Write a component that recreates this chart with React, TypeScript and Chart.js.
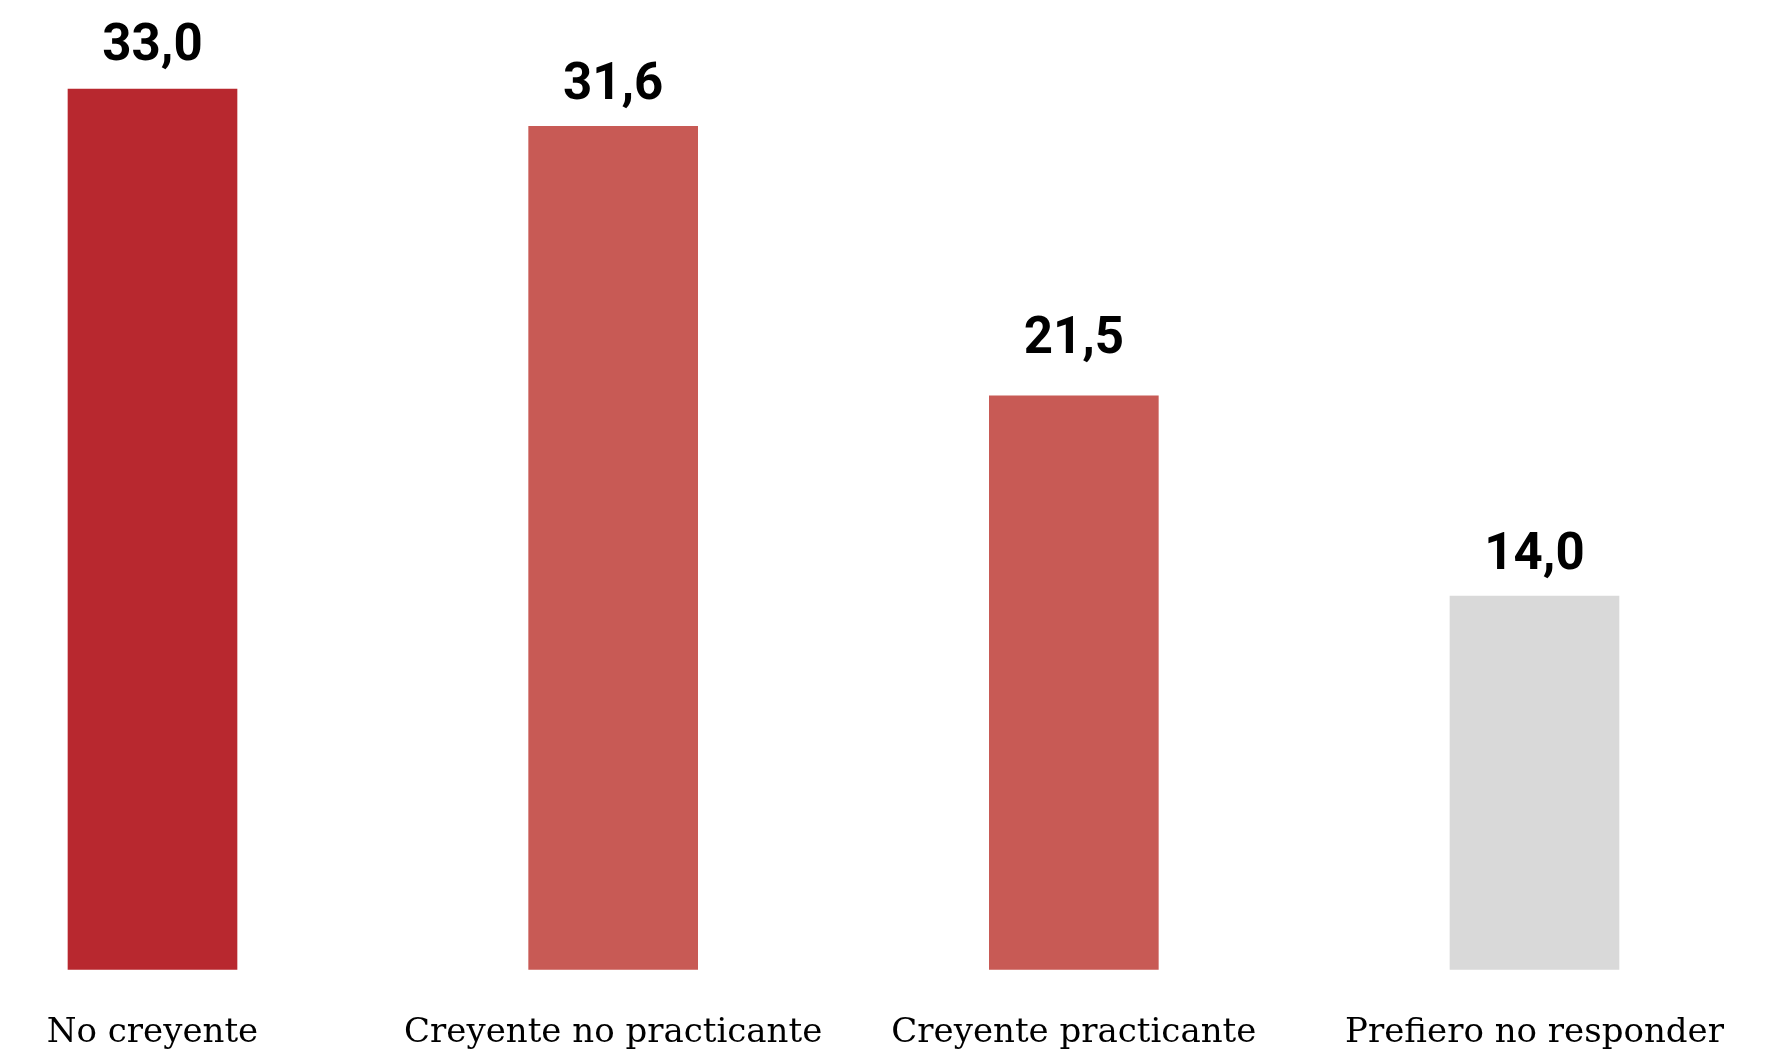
import React, { useEffect, useRef } from "react";
import { Chart, registerables } from "chart.js";

Chart.register(...registerables);

const categories = ["No creyente", "Creyente no practicante", "Creyente practicante", "Prefiero no responder"];
const values = [33.0, 31.6, 21.5, 14.0];
const valueLabels = ["33,0", "31,6", "21,5", "14,0"];
const barColors = ["#B8282F", "#C85A55", "#C85A55", "#D9D9D9"];
const labelGaps = [29, 27, 43, 27];

const W = 1782;
const H = 1051;
const AXIS_H = 81.5;

export default function App() {
  const ref = useRef<HTMLCanvasElement | null>(null);

  useEffect(() => {
    const canvas = ref.current;
    if (!canvas) return;

    const valuePlugin = {
      id: "valueLabels",
      afterDatasetsDraw(chart: any) {
        const ctx = chart.ctx;
        const meta = chart.getDatasetMeta(0);
        ctx.save();
        ctx.fillStyle = "#000000";
        ctx.font = "bold 51px Roboto";
        ctx.textAlign = "center";
        ctx.textBaseline = "alphabetic";
        meta.data.forEach((el: any, i: number) => {
          ctx.fillText(valueLabels[i], el.x, el.y - labelGaps[i]);
        });
        ctx.restore();
      },
    };

    const chart = new Chart(canvas, {
      type: "bar",
      data: {
        labels: categories,
        datasets: [
          {
            data: values,
            backgroundColor: barColors,
            borderWidth: 0,
            barThickness: 169,
            clip: false as any,
          },
        ],
      },
      options: {
        responsive: false,
        animation: false,
        devicePixelRatio: 1,
        layout: {
          padding: { left: 152.5, right: 247.5, top: 9, bottom: 0 },
        },
        plugins: {
          legend: { display: false },
          tooltip: { enabled: false },
        },
        scales: {
          x: {
            offset: false,
            grid: { display: false, drawTicks: false },
            border: { display: false },
            afterFit: (scale: any) => {
              scale.height = AXIS_H;
            },
            ticks: {
              color: "#000000",
              font: { family: "'DejaVu Serif'", size: 34 },
              padding: 43,
              maxRotation: 0,
              autoSkip: false,
            },
          },
          y: {
            display: false,
            min: 0,
            max: 36,
          },
        },
      },
      plugins: [valuePlugin],
    });

    return () => chart.destroy();
  }, []);

  return (
    <div style={{ position: "absolute", left: 0, top: 0, width: W, height: H, background: "#ffffff" }}>
      <canvas ref={ref} width={W} height={H} style={{ display: "block", width: W, height: H }} />
    </div>
  );
}
